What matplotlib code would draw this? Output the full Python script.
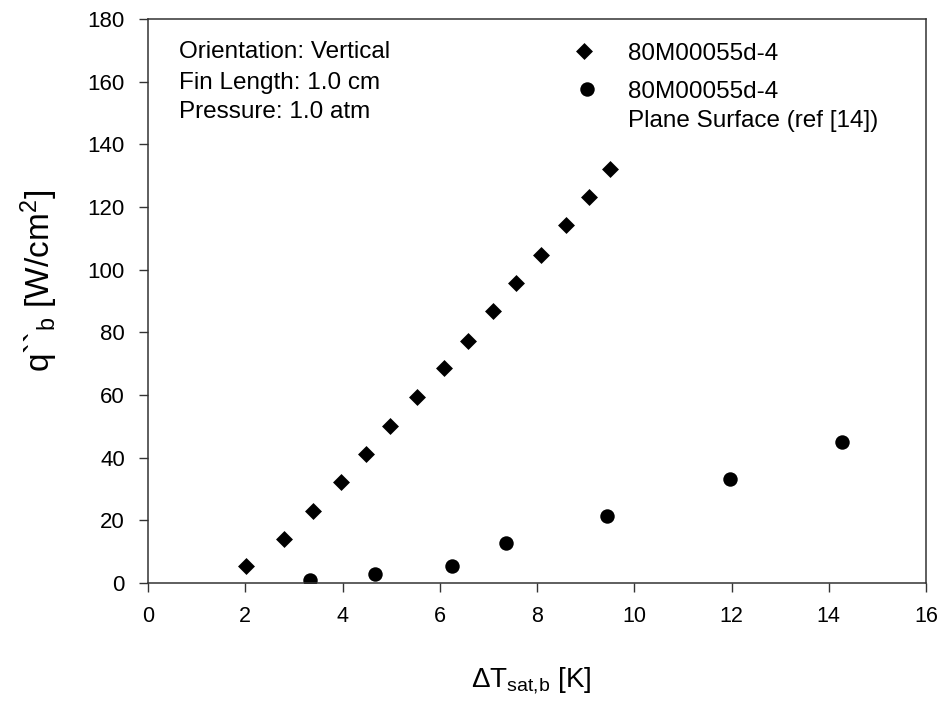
import matplotlib
matplotlib.use("Agg")
import matplotlib.pyplot as plt

plt.rcParams['font.family'] = ['Liberation Sans', 'DejaVu Sans']
plt.rcParams['mathtext.fontset'] = 'custom'
plt.rcParams['mathtext.rm'] = 'Liberation Sans'
plt.rcParams['mathtext.it'] = 'Liberation Sans'

# Data
finned_x = [2.01, 2.80, 3.39, 3.96, 4.49, 4.98, 5.54, 6.09, 6.59, 7.09, 7.57, 8.08, 8.59, 9.07, 9.50]
finned_y = [5.3, 13.9, 23.0, 32.1, 41.2, 50.1, 59.5, 68.5, 77.3, 86.7, 95.7, 104.6, 114.4, 123.1, 132.0]
plane_x = [3.33, 4.66, 6.25, 7.36, 9.44, 11.96, 14.27]
plane_y = [0.85, 2.8, 5.3, 12.8, 21.3, 33.1, 45.0]
xticks = [0, 2, 4, 6, 8, 10, 12, 14, 16]
yticks = [0, 20, 40, 60, 80, 100, 120, 140, 160, 180]
label1 = "80M00055d-4"
label2_lines = ["80M00055d-4", "Plane Surface (ref [14])"]
note_lines = ["Orientation: Vertical", "Fin Length: 1.0 cm", "Pressure: 1.0 atm"]

fig = plt.figure(figsize=(9.41, 7.05), dpi=100)
ax = fig.add_axes([0.1573, 0.1730, 0.8268, 0.8000])

diamond = [(0, 1), (1, 0), (0, -1), (-1, 0), (0, 1)]
ax.plot(finned_x, finned_y, linestyle='none', marker=diamond, markersize=12.2,
        color='black', markeredgewidth=0)
ax.plot(plane_x, plane_y, linestyle='none', marker='o', markersize=10.4,
        color='black', markeredgewidth=0)

ax.set_xlim(0, 16)
ax.set_ylim(0, 180)
ax.set_xticks(xticks)
ax.set_yticks(yticks)
ax.tick_params(axis='both', direction='out', length=6.2, width=1, color='#333333')
ax.tick_params(axis='x', labelsize=15.5, pad=10)
ax.tick_params(axis='y', labelsize=16, pad=10.5)
for s in ax.spines.values():
    s.set_linewidth(1.1)
    s.set_color('#333333')

ax.set_xlabel(r'$\Delta$T$_{\mathrm{sat{,}b}}$ [K]', fontsize=20)
ax.xaxis.set_label_coords(0.492, -0.145)
ax.set_ylabel(r'q``$_{\mathrm{b}}$ [W/cm$^{2}$]', fontsize=24)
ax.yaxis.set_label_coords(-0.113, 0.535)

# annotation block
note_y = [0.931, 0.876, 0.8245]
for txt, yy in zip(note_lines, note_y):
    ax.text(0.040, yy, txt, transform=ax.transAxes, fontsize=17.5,
            va='baseline', ha='left')

# legend (manual to match layout)
ax.plot([0.5604], [0.943], transform=ax.transAxes, clip_on=False,
        linestyle='none', marker=diamond, markersize=12.2, color='black',
        markeredgewidth=0)
ax.plot([0.5643], [0.876], transform=ax.transAxes, clip_on=False,
        linestyle='none', marker='o', markersize=10.4, color='black',
        markeredgewidth=0)
ax.text(0.617, 0.9273, label1, transform=ax.transAxes, fontsize=17.5,
        va='baseline', ha='left')
for txt, yy in zip(label2_lines, [0.860, 0.8085]):
    ax.text(0.617, yy, txt, transform=ax.transAxes, fontsize=17.5,
            va='baseline', ha='left')

fig.savefig('out.png', dpi=100)
